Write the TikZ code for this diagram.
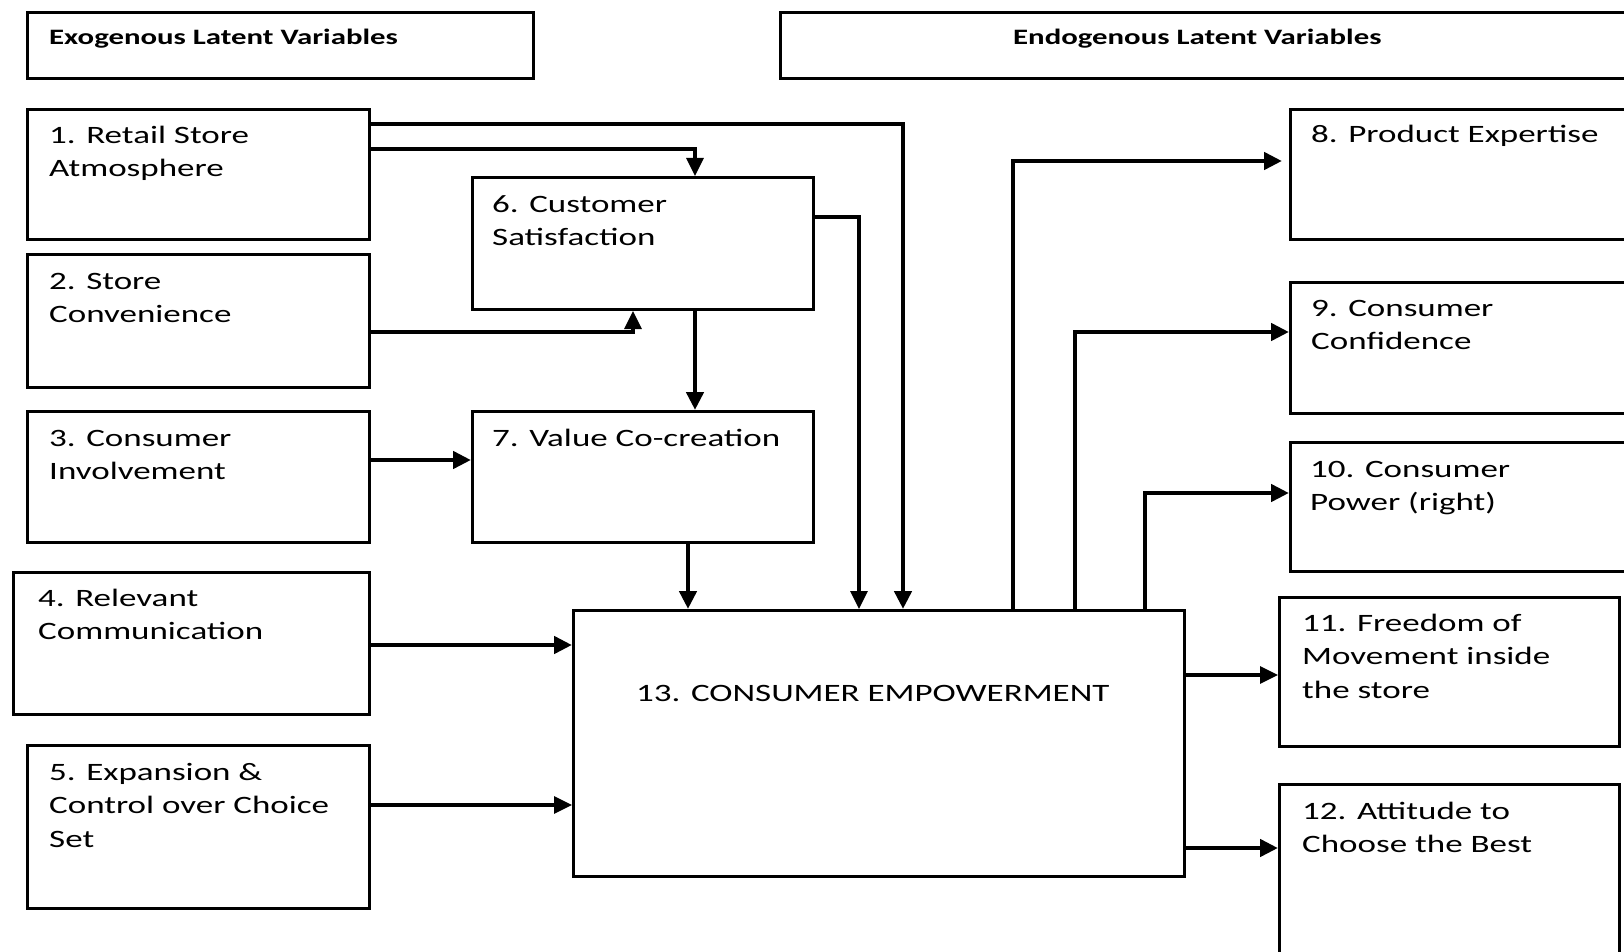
\documentclass[tikz,border=0pt]{standalone}
\usepackage{fontspec}
\setmainfont{Carlito}[FakeStretch=1.4]
\usetikzlibrary{arrows.meta,calc}

\begin{document}
\begin{tikzpicture}[x=1pt,y=-1pt,
  box/.style={draw, line width=3pt, inner sep=0pt, anchor=north west},
  head/.style={anchor=base west, inner sep=0pt, font=\fontsize{22}{26}\selectfont\bfseries},
  txt/.style={anchor=north west, inner sep=0pt, align=left, font=\fontsize{25}{33.5}\selectfont},
  bold arrow/.style={line width=4.5pt, -{Triangle[length=18pt,width=17pt]}},
  thin arrow/.style={line width=3.2pt, -{Triangle[length=18pt,width=17pt]}}
]
\clip (0,0) rectangle (1624,952);
\fill[white] (0,0) rectangle (1624,952);

% headers
\node[box, minimum width=506pt, minimum height=66pt] (hx) at (26,11) {};
\node[box, minimum width=861pt, minimum height=66pt] (hn) at (779,11) {};
\node[head] (hxt) at (49,45) {Exogenous Latent Variables};
\node[head] (hnt) at (1013,45) {Endogenous Latent Variables};

% exogenous variables
\node[box, minimum width=342pt, minimum height=130pt] (b1) at (26,108) {};
\node[box, minimum width=342pt, minimum height=133pt] (b2) at (26,253) {};
\node[box, minimum width=342pt, minimum height=131pt] (b3) at (26,410) {};
\node[box, minimum width=356.5pt, minimum height=142pt] (b4) at (11.5,571) {};
\node[box, minimum width=342pt, minimum height=163pt] (b5) at (26,744) {};

% mediators
\node[box, minimum width=341pt, minimum height=132pt] (b6) at (471,176) {};
\node[box, minimum width=341pt, minimum height=131pt] (b7) at (471,410) {};
\node[box, minimum width=611pt, minimum height=266pt] (b13) at (572,609) {};

% endogenous variables
\node[box, minimum width=351pt, minimum height=130pt] (b8) at (1289,108) {};
\node[box, minimum width=351pt, minimum height=131pt] (b9) at (1289,281) {};
\node[box, minimum width=351pt, minimum height=129pt] (b10) at (1289,441) {};
\node[box, minimum width=340pt, minimum height=149pt] (b11) at (1278,596) {};
\node[box, minimum width=340pt, minimum height=182pt] (b12) at (1278,783) {};

% box texts (top = first baseline - 23.45)
\node[txt] (t1) at (49,119.55) {\strut 1. Retail Store\\Atmosphere};
\node[txt] (t2) at (49,265.55) {\strut 2. Store\\Convenience};
\node[txt] (t3) at (49,422.55) {\strut 3. Consumer\\Involvement};
\node[txt] (t4) at (38,582.55) {\strut 4. Relevant\\Communication};
\node[txt] (t5) at (49,756.55) {\strut 5. Expansion \&\\Control over Choice\\Set};
\node[txt] (t6) at (492,188.55) {\strut 6. Customer\\Satisfaction};
\node[txt] (t7) at (492,422.55) {\strut 7. Value Co-creation};
\node[txt] (t13) at (636,677.55) {\strut 13. CONSUMER EMPOWERMENT};
\node[txt] (t8) at (1311,118.55) {\strut 8. Product Expertise};
\node[txt] (t9) at (1311,292.55) {\strut 9. Consumer\\Confidence};
\node[txt] (t10) at (1310,453.55) {\strut 10. Consumer\\Power (right)};
\node[txt] (t11) at (1302,607.55) {\strut 11. Freedom of\\Movement inside\\the store};
\node[txt] (t12) at (1302,795.55) {\strut 12. Attitude to\\Choose the Best};

% connectors
\draw[bold arrow] ($(b1.north east)+(0,16)$) -| ($(b13.north west)+(331,0)$);
\draw[thin arrow] ($(b1.north east)+(0,41)$) -| ($(b6.north west)+(224,0)$);
\draw[thin arrow] ($(b2.north east)+(0,79)$) -| ($(b6.south west)+(162,0)$);
\draw[bold arrow] ($(b6.south west)+(224,0)$) -- ($(b7.north west)+(224,0)$);
\draw[bold arrow] ($(b3.north east)+(0,50)$) -- ($(b7.north west)+(0,50)$);
\draw[bold arrow] ($(b7.south west)+(217,0)$) -- ($(b13.north west)+(116,0)$);
\draw[bold arrow] ($(b4.north east)+(0,74)$) -- ($(b13.north west)+(0,36)$);
\draw[thin arrow] ($(b5.north east)+(0,61)$) -- ($(b13.north west)+(0,196)$);
\draw[thin arrow] ($(b6.north east)+(0,41)$) -| ($(b13.north west)+(287,0)$);
\draw[bold arrow, shorten >=7pt] ($(b13.north west)+(441,0)$) |- ($(b8.north west)+(0,53)$);
\draw[bold arrow] ($(b13.north west)+(503,0)$) |- ($(b9.north west)+(0,51)$);
\draw[bold arrow] ($(b13.north west)+(573,0)$) |- ($(b10.north west)+(0,52)$);
\draw[thin arrow] ($(b13.north east)+(0,66)$) -- ($(b11.north west)+(0,79)$);
\draw[bold arrow] ($(b13.north east)+(0,239)$) -- ($(b12.north west)+(0,65)$);
\end{tikzpicture}
\end{document}
